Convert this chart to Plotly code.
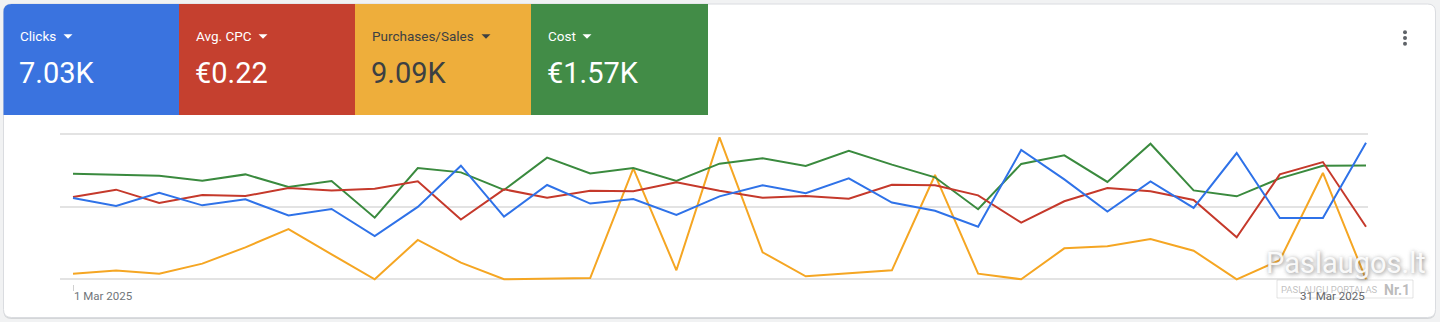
import pandas as pd
import plotly.graph_objects as go

W, H = 1440, 322

# ---------------- data (indexed 0-100 per metric) ----------------
dates = pd.date_range("2025-03-01", "2025-03-31", freq="D")
clicks_idx = [55.9, 50.5, 59.6, 50.9, 55.0, 44.0, 48.4, 29.8, 49.8, 78.2, 43.1, 64.9, 52.1, 55.3, 44.3, 57.1,
              64.7, 59.2, 69.5, 52.8, 47.2, 36.2, 89.0, 68.8, 46.6, 67.4, 49.1, 86.9, 42.2, 42.2, 94.0]
cpc_idx = [56.7, 61.7, 52.5, 58.0, 57.3, 62.8, 61.2, 62.4, 67.4, 41.1, 61.9, 56.2, 61.0, 60.6, 66.7, 61.0,
           56.2, 57.3, 55.5, 65.0, 64.7, 57.8, 39.0, 53.7, 62.8, 60.6, 54.6, 28.9, 72.2, 80.7, 36.2]
purch_idx = [3.9, 6.0, 3.9, 10.8, 22.0, 34.6, 17.2, 0.0, 27.1, 11.5, 0.0, 0.5, 0.9, 76.4, 6.2, 97.7,
             18.6, 2.1, 4.1, 6.2, 71.8, 3.9, 0.0, 21.3, 22.7, 27.8, 19.7, 0.0, 13.1, 73.2, 0.0]
cost_idx = [72.7, 71.8, 71.3, 67.9, 72.2, 63.5, 67.7, 42.4, 76.6, 73.6, 61.5, 83.7, 72.9, 76.6, 67.7, 79.6,
            83.3, 78.0, 88.5, 78.9, 70.2, 48.2, 79.4, 85.3, 67.0, 93.3, 61.2, 57.1, 69.5, 78.2, 78.4]

metric_names = ["Clicks", "Avg. CPC", "Purchases/Sales", "Cost"]
metric_totals = ["7.03K", "€0.22", "9.09K", "€1.57K"]
tick_labels = ["1 Mar 2025", "31 Mar 2025"]
watermark = ["Paslaugos.lt", "PASLAUGŲ PORTALAS", "Nr.1"]

tile_colors = ["#3a73df", "#c5402f", "#eeae3b", "#428c47"]
text_colors = ["#ffffff", "#ffffff", "#3c4043", "#ffffff"]
line_colors = ["#2f72e8", "#c5392b", "#f5a623", "#3a8a3e"]


def px(x):
    return x / W


def py(y):
    return 1 - y / H


fig = go.Figure()

series = [("Purchases/Sales", purch_idx, line_colors[2]),
          ("Cost", cost_idx, line_colors[3]),
          ("Avg. CPC", cpc_idx, line_colors[1]),
          ("Clicks", clicks_idx, line_colors[0])]
for name, vals, col in series:
    fig.add_trace(go.Scatter(x=dates, y=vals, mode="lines", name=name,
                             line=dict(color=col, width=2), hoverinfo="skip"))

shapes = []
# card shadow + card
L, T, R, B, r = 3.5, 4.0, 1435.5, 317.5, 8


def rounded(L, T, R, B, r):
    return (f"M {px(L + r)} {py(T)} L {px(R - r)} {py(T)} Q {px(R)} {py(T)} {px(R)} {py(T + r)} "
            f"L {px(R)} {py(B - r)} Q {px(R)} {py(B)} {px(R - r)} {py(B)} L {px(L + r)} {py(B)} "
            f"Q {px(L)} {py(B)} {px(L)} {py(B - r)} L {px(L)} {py(T + r)} Q {px(L)} {py(T)} {px(L + r)} {py(T)} Z")


shapes.append(dict(type="path", xref="paper", yref="paper", layer="below",
                   path=rounded(L, T + 1.5, R, B + 1.5, r), fillcolor="#d4d6d8", line=dict(width=0)))
shapes.append(dict(type="path", xref="paper", yref="paper", layer="below",
                   path=rounded(L, T, R, B, r), fillcolor="#ffffff", line=dict(color="#dadce0", width=1)))

# tiles
tile_x = [3.5, 179, 355, 531, 708]
tile_top, tile_bot = 4.0, 115.0
for i in range(4):
    x0, x1 = tile_x[i], tile_x[i + 1]
    if i == 0:
        path = (f"M {px(x0)} {py(tile_bot)} L {px(x0)} {py(tile_top + r)} Q {px(x0)} {py(tile_top)} "
                f"{px(x0 + r)} {py(tile_top)} L {px(x1)} {py(tile_top)} L {px(x1)} {py(tile_bot)} Z")
    else:
        path = (f"M {px(x0)} {py(tile_bot)} L {px(x0)} {py(tile_top)} L {px(x1)} {py(tile_top)} "
                f"L {px(x1)} {py(tile_bot)} Z")
    shapes.append(dict(type="path", xref="paper", yref="paper", layer="below",
                       path=path, fillcolor=tile_colors[i], line=dict(width=0)))

# dropdown triangles
tri_x = [63.5, 258.5, 481.5, 582.5]
for i, tx in enumerate(tri_x):
    shapes.append(dict(type="path", xref="paper", yref="paper", layer="above",
                       path=f"M {px(tx)} {py(34.3)} L {px(tx + 9)} {py(34.3)} L {px(tx + 4.5)} {py(38.8)} Z",
                       fillcolor=text_colors[i], line=dict(width=0)))

# kebab menu
for cy in (32.3, 38.0, 43.7):
    shapes.append(dict(type="circle", xref="paper", yref="paper", layer="above",
                       x0=px(1403), x1=px(1407), y0=py(cy + 2), y1=py(cy - 2),
                       fillcolor="#5f6368", line=dict(width=0)))

# watermark box
shapes.append(dict(type="rect", xref="paper", yref="paper", layer="above",
                   x0=px(1277), x1=px(1413), y0=py(298), y1=py(280),
                   fillcolor="rgba(255,255,255,0.75)", line=dict(color="rgba(200,200,200,0.5)", width=1)))

annotations = []
text_x = [19, 195, 371, 547]
for i in range(4):
    annotations.append(dict(x=px(text_x[i] - 1), y=py(36), xref="paper", yref="paper", xanchor="left",
                            yanchor="middle", showarrow=False, text=metric_names[i],
                            font=dict(family="Roboto", size=13.5, color=text_colors[i])))
    annotations.append(dict(x=px(text_x[i] - 2), y=py(73), xref="paper", yref="paper", xanchor="left",
                            yanchor="middle", showarrow=False, text=metric_totals[i],
                            font=dict(family="Roboto", size=29, color=text_colors[i])))

# axis end labels
annotations.append(dict(x=px(72), y=py(295.5), xref="paper", yref="paper", xanchor="left", yanchor="middle",
                        showarrow=False, text=tick_labels[0],
                        font=dict(family="Roboto", size=11.5, color="#70757a")))
annotations.append(dict(x=px(1367), y=py(295.5), xref="paper", yref="paper", xanchor="right", yanchor="middle",
                        showarrow=False, text=tick_labels[1],
                        font=dict(family="Roboto", size=11.5, color="#5f6368")))

# watermark text
annotations.append(dict(x=px(1346), y=py(263), xref="paper", yref="paper", xanchor="center", yanchor="middle",
                        showarrow=False, text=watermark[0],
                        font=dict(family="Roboto", size=29, color="rgba(255,255,255,0.92)",
                                  shadow="1px 1px 4px rgba(90,90,90,0.8)")))
annotations.append(dict(x=px(1279), y=py(289.5), xref="paper", yref="paper", xanchor="left", yanchor="middle",
                        showarrow=False, text=watermark[1],
                        font=dict(family="Roboto", size=9.5, color="rgba(150,150,150,0.6)")))
annotations.append(dict(x=px(1412), y=py(289.5), xref="paper", yref="paper", xanchor="right", yanchor="middle",
                        showarrow=False, text="<b>" + watermark[2] + "</b>",
                        font=dict(family="Roboto", size=14, color="rgba(170,170,170,0.8)")))

# axes geometry
ppd = (1366 - 73) / 30.0  # pixels per day
left_pad_days = (73 - 60) / ppd
right_pad_days = 1.5 / ppd
x0 = dates[0] - pd.Timedelta(days=left_pad_days)
x1 = dates[-1] + pd.Timedelta(days=right_pad_days)

y_bottom_px, y_top_px = 279.3, 134.0
ppu = (y_bottom_px - y_top_px) / 100.0
pad_u = 3.0

fig.update_layout(
    width=W, height=H,
    margin=dict(l=0, r=0, t=0, b=0),
    paper_bgcolor="#f1f2f3",
    plot_bgcolor="rgba(0,0,0,0)",
    showlegend=False,
    shapes=shapes,
    annotations=annotations,
    xaxis=dict(domain=[px(60), px(1367.5)], range=[x0, x1], type="date",
               showgrid=False, zeroline=False, showline=False,
               tickmode="array", tickvals=[dates[0]], ticktext=[""],
               ticks="outside", ticklen=6, tickcolor="#d0d0d0", tickwidth=1),
    yaxis=dict(domain=[py(y_bottom_px + pad_u * ppu), py(y_top_px - pad_u * ppu)],
               range=[-pad_u, 100 + pad_u], showticklabels=False,
               tickmode="array", tickvals=[0, 50, 100],
               showgrid=True, gridcolor="#e3e3e3", gridwidth=1.5,
               zeroline=False, showline=False),
)

fig.write_html("out.html")
